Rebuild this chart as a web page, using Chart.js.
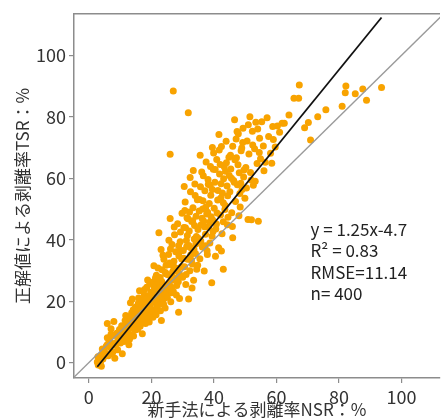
<!DOCTYPE html>
<html>
<head>
<meta charset="utf-8">
<script src="https://cdn.jsdelivr.net/npm/chart.js@4/dist/chart.umd.min.js"></script>
<style>
  html, body { margin: 0; padding: 0; background: #fff; overflow: hidden; }
  canvas { display: block; }
</style>
</head>
<body>
<canvas id="srChart" width="444" height="420"></canvas>
<script>
// NSR (new method) values, grouped roughly by x range
var nsr = [
  2.7,3.0,3.4,3.8,4.1,4.5,4.8,2.9,3.6,4.3,5.0,4.0,
  5.3,5.6,5.9,6.2,6.5,6.8,7.1,7.4,7.7,8.0,8.3,8.6,8.9,9.2,9.5,9.8,6.0,7.0,8.0,9.0,5.9,7.1,
  10.1,10.4,10.7,11.0,11.3,11.6,11.9,12.2,12.5,12.8,13.1,13.4,13.7,14.0,14.3,14.6,14.9,10.5,11.2,11.8,12.4,13.0,13.6,14.2,14.8,10.9,12.0,13.3,14.5,11.5,12.7,13.9,
  15.1,15.3,15.6,15.8,16.0,16.2,16.4,16.6,16.8,17.0,17.1,17.3,17.5,17.7,17.9,18.1,18.3,18.5,18.7,18.9,19.1,19.3,19.5,19.7,19.9,15.4,15.9,16.3,16.9,17.4,17.8,18.2,18.6,19.0,19.4,19.8,15.7,16.5,17.2,18.0,18.8,19.6,
  20.1,20.3,20.5,20.7,20.8,21.0,21.2,21.4,21.6,21.8,22.0,22.2,22.4,22.6,22.8,23.0,23.2,23.4,23.6,23.8,24.0,24.2,24.4,24.6,24.8,20.4,20.9,21.3,21.7,22.1,22.5,22.9,23.3,23.7,24.1,24.5,24.9,20.6,21.5,22.3,23.1,23.9,24.7,22.4,
  25.1,25.3,25.5,25.7,25.9,26.0,26.2,26.4,26.6,26.8,27.0,27.2,27.4,27.6,27.8,28.0,28.2,28.4,28.6,28.8,29.0,29.2,29.4,29.6,29.8,25.4,25.8,26.1,26.5,26.9,27.3,27.7,28.1,28.5,28.9,29.3,29.7,25.6,26.3,27.1,27.9,28.7,29.5,26.0,27.0,27.0,31.8,28.7,
  30.0,30.2,30.4,30.6,30.8,31.0,31.2,31.4,31.6,31.9,32.1,32.3,32.5,32.7,32.9,33.1,33.3,33.5,33.7,33.9,34.1,34.3,34.5,34.7,34.9,30.3,30.7,31.1,31.5,32.0,32.4,32.8,33.2,33.6,34.0,34.4,34.8,30.5,31.3,32.2,33.0,33.8,34.6,31.7,32.6,33.4,34.2,30.9,
  35.1,35.3,35.5,35.7,35.9,36.1,36.3,36.5,36.7,36.9,37.1,37.3,37.5,37.7,37.9,38.1,38.3,38.5,38.7,38.9,39.1,39.3,39.5,39.7,39.9,35.4,35.8,36.2,36.6,37.0,37.4,37.8,38.2,38.6,39.0,39.4,39.8,35.6,36.4,37.2,38.0,38.8,39.6,39.5,
  40.1,40.3,40.6,40.9,41.2,41.5,41.8,42.1,42.4,42.7,43.0,43.3,43.6,43.9,44.2,44.5,44.8,40.4,40.8,41.3,41.7,42.2,42.6,43.1,43.5,44.0,44.4,44.9,40.5,41.0,41.6,42.3,43.0,43.7,44.3,42.4,43.0,42.0,
  45.1,45.4,45.7,46.0,46.3,46.6,46.9,47.2,47.5,47.8,48.1,48.4,48.7,49.0,49.3,49.6,49.9,45.3,45.9,46.5,47.1,47.7,48.3,48.9,49.5,46.0,46.7,47.4,48.6,49.2,45.6,48.0,
  50.2,50.6,50.9,51.2,51.5,51.9,52.3,52.6,53.0,53.4,53.8,54.2,54.6,54.9,50.4,51.0,51.7,52.4,53.2,54.0,54.5,52.0,
  55.3,55.8,56.4,57.0,57.5,58.1,58.8,59.0,59.6,60.3,61.0,61.8,56.0,58.5,
  62.5,64.0,65.6,67.1,67.3,69.0,70.2,70.9,73.2,75.8,81.0,82.0,82.2,85.2,87.6,88.8,93.6
];

// TSR (reference) values, same order
var tsr = [
  0.2,-0.8,1.5,0.5,2.6,1.2,3.8,1.9,-0.3,4.4,2.1,-1.2,
  3.1,5.4,12.7,2.2,7.6,4.9,11.0,6.3,3.5,8.8,1.4,5.7,9.6,4.2,7.9,10.8,6.0,2.8,13.4,6.7,8.1,9.2,
  6.4,9.8,2.9,11.5,8.2,13.7,7.1,10.4,14.9,5.8,12.3,9.0,16.2,11.1,8.7,13.5,18.0,12.0,6.9,15.3,10.2,7.6,14.1,17.2,10.6,8.9,12.8,19.5,15.6,10.9,9.3,20.7,
  12.4,16.8,10.9,19.2,14.5,23.4,11.8,17.6,15.1,20.3,9.4,13.9,18.4,22.1,16.0,12.7,19.8,24.5,14.9,17.3,21.6,13.2,25.8,18.9,15.7,14.0,21.0,12.9,18.1,16.4,23.8,20.6,15.3,19.0,17.1,22.9,13.5,16.7,19.9,14.4,26.9,20.8,
  17.2,22.5,14.8,26.3,31.5,19.7,24.1,16.3,28.4,21.0,18.6,25.9,42.3,20.4,27.7,23.1,13.7,30.2,19.5,25.0,33.6,22.2,17.8,28.9,24.6,20.0,23.6,27.5,18.1,30.8,21.7,16.9,26.4,34.9,20.9,29.3,22.8,25.3,15.6,24.0,36.8,19.0,31.7,27.2,
  21.3,28.6,35.2,24.0,31.9,67.8,19.8,26.7,38.4,29.5,23.2,33.0,41.6,27.4,36.1,22.0,30.6,45.2,26.3,34.7,20.9,39.3,28.1,31.2,48.6,25.5,32.4,37.0,22.7,27.9,44.1,30.0,25.1,35.9,29.1,42.5,33.7,39.8,24.6,31.4,27.0,38.0,36.4,46.9,88.4,29.9,81.3,16.4,
  27.8,36.5,44.0,31.2,52.3,25.4,39.7,47.1,33.6,20.7,42.8,29.9,55.6,37.3,45.9,32.1,50.4,26.8,40.2,58.1,35.5,47.6,30.4,53.0,43.3,34.0,49.5,28.7,41.4,38.1,60.2,33.3,46.2,36.9,54.4,41.0,31.7,57.3,37.8,49.0,24.3,44.6,39.2,46.8,35.1,62.5,38.6,43.9,
  40.4,49.3,33.8,57.2,44.9,62.0,37.6,52.7,46.1,29.8,55.9,41.8,65.3,48.4,35.2,59.6,44.0,51.8,38.9,63.8,47.5,26.0,56.3,42.7,68.2,53.1,39.6,47.0,60.8,44.2,50.6,36.4,58.0,45.7,54.5,41.1,62.9,67.5,50.0,38.0,48.9,57.7,46.4,70.0,
  50.2,58.7,43.5,66.1,52.9,37.4,61.4,48.0,70.3,55.2,45.8,63.7,51.1,72.0,57.5,47.3,66.8,62.8,45.1,56.0,69.2,53.6,41.9,59.8,49.8,65.0,54.3,60.9,34.6,48.7,74.2,58.2,52.0,62.3,44.9,36.3,30.4,64.5,
  55.6,63.0,48.8,70.4,59.3,79.0,52.4,66.7,57.9,74.5,61.8,50.6,68.9,56.3,76.3,62.7,53.5,67.5,44.3,58.7,72.8,64.4,55.0,69.8,60.4,40.6,66.0,75.2,58.4,71.6,60.0,47.8,
  63.5,72.1,46.6,67.9,80.0,59.4,75.3,57.7,69.6,78.2,64.8,46.0,73.0,66.3,56.8,77.4,61.9,70.8,59.0,76.0,68.4,46.5,
  78.4,70.5,65.2,79.7,73.6,68.1,76.8,72.6,70.2,77.0,75.0,77.9,62.4,64.9,
  77.9,80.6,86.0,86.0,90.3,76.4,78.1,72.4,80.0,82.3,83.4,87.8,90.0,87.5,89.0,85.4,89.5
];

var tickValues = [0, 20, 40, 60, 80, 100];
var slope = 1.25;
var intercept = -4.7;
var statLines = ['y = 1.25x-4.7', 'R\u00b2 = 0.83', 'RMSE=11.14', 'n= 400'];

var jpFont = '"Noto Sans CJK JP", "Noto Sans", sans-serif';

var points = [];
for (var i = 0; i < nsr.length; i++) {
    points.push({ x: nsr[i], y: tsr[i] });
}
var xLo = Math.min.apply(null, nsr);
var xHi = Math.max.apply(null, nsr);
var fitLine = [
    { x: xLo, y: slope * xLo + intercept },
    { x: xHi, y: slope * xHi + intercept }
];
var oneToOne = [{ x: -10, y: -10 }, { x: 130, y: 130 }];

// top frame line + stats text
var extras = {
    id: 'extras',
    afterDatasetsDraw: function (chart) {
        var ctx = chart.ctx;
        var a = chart.chartArea;
        ctx.save();
        ctx.strokeStyle = '#8c8c8c';
        ctx.lineWidth = 1.5;
        ctx.beginPath();
        ctx.moveTo(a.left, a.top);
        ctx.lineTo(a.right, a.top);
        ctx.stroke();

        var xs = chart.scales.x, ys = chart.scales.y;
        var tx = xs.getPixelForValue(70.9);
        var ty = ys.getPixelForValue(41.2);
        ctx.fillStyle = '#222';
        ctx.font = '17px ' + jpFont;
        ctx.textBaseline = 'alphabetic';
        ctx.textAlign = 'left';
        for (var k = 0; k < statLines.length; k++) {
            ctx.fillText(statLines[k], tx, ty + k * 21.3);
        }
        ctx.restore();
    }
};

var canvas = document.getElementById('srChart').getContext('2d');
new Chart(canvas, {
    type: 'scatter',
    data: {
        datasets: [
            {
                type: 'line',
                data: fitLine,
                borderColor: '#111',
                borderWidth: 1.8,
                pointRadius: 0,
                fill: false
            },
            {
                type: 'line',
                data: oneToOne,
                borderColor: '#9a9a9a',
                borderWidth: 1.3,
                pointRadius: 0,
                fill: false
            },
            {
                data: points,
                backgroundColor: '#f8a300',
                borderWidth: 0,
                pointRadius: 3.5
            }
        ]
    },
    options: {
        responsive: false,
        animation: false,
        layout: { padding: { top: 12, right: 0, left: 0, bottom: 0 } },
        plugins: { legend: { display: false }, tooltip: { enabled: false } },
        scales: {
            x: {
                type: 'linear',
                min: -4.75,
                max: 112.3,
                afterFit: function (s) { s.height = 42; },
                afterBuildTicks: function (s) {
                    s.ticks = tickValues.map(function (v) { return { value: v }; });
                },
                grid: { drawOnChartArea: false, tickLength: 5, color: '#8c8c8c', lineWidth: 1.2 },
                border: { color: '#8c8c8c', width: 1.5 },
                ticks: { color: '#333', font: { size: 18, family: jpFont }, padding: 3, maxRotation: 0 },
                title: {
                    display: true,
                    text: '新手法による剥離率NSR：%',
                    color: '#333',
                    font: { size: 17, family: jpFont },
                    padding: { top: 0, bottom: 0 }
                }
            },
            y: {
                type: 'linear',
                min: -5,
                max: 113.5,
                afterFit: function (s) { s.width = 74; },
                afterBuildTicks: function (s) {
                    s.ticks = tickValues.map(function (v) { return { value: v }; });
                },
                grid: { drawOnChartArea: false, tickLength: 5, color: '#8c8c8c', lineWidth: 1.2 },
                border: { color: '#8c8c8c', width: 1.5 },
                ticks: { color: '#333', font: { size: 18, family: jpFont }, padding: 3 },
                title: {
                    display: true,
                    text: '正解値による剥離率TSR：%',
                    color: '#333',
                    font: { size: 17, family: jpFont },
                    padding: { top: 12, bottom: 0 }
                }
            }
        }
    },
    plugins: [extras]
});
</script>
</body>
</html>
